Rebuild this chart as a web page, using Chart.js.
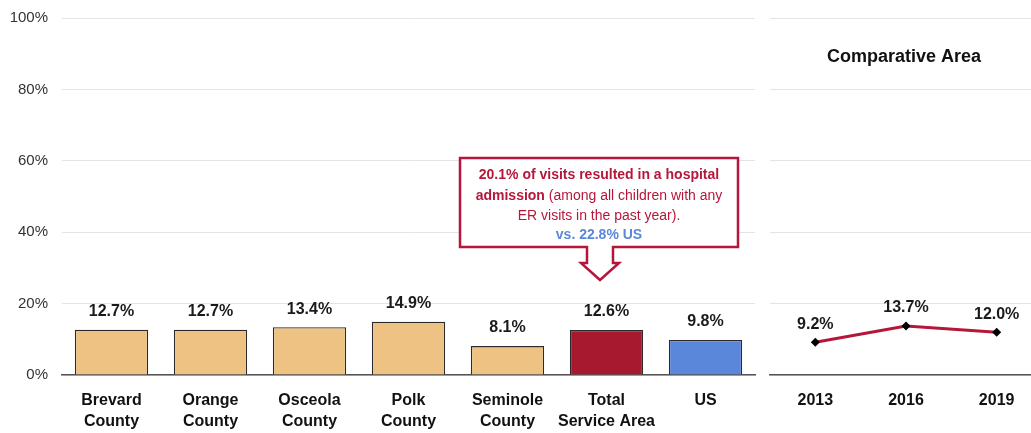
<!DOCTYPE html>
<html>
<head>
<meta charset="utf-8">
<script src="https://cdn.jsdelivr.net/npm/chart.js@4"></script>
<style>
  html, body { margin: 0; padding: 0; background: #fff; overflow: hidden; }
  #wrap { position: relative; width: 1031px; height: 433px; }
  #left { position: absolute; left: 0; top: 0; width: 760px; height: 433px; }
  #right { position: absolute; left: 760px; top: 0; width: 290px; height: 433px; }
</style>
</head>
<body>
<div id="wrap">
  <div id="left"><canvas id="barChart"></canvas></div>
  <div id="right"><canvas id="lineChart"></canvas></div>
</div>
<script>
// dados do gráfico
const areas = [["Brevard", "County"], ["Orange", "County"], ["Osceola", "County"], ["Polk", "County"], ["Seminole", "County"], ["Total", "Service Area"], "US"];
const areaValues = [12.7, 12.7, 13.4, 14.9, 8.1, 12.6, 9.8];
const areaColors = ["#EDC282", "#EDC282", "#EDC282", "#EDC282", "#EDC282", "#A6192E", "#5B87DA"];
const years = ["2013", "2016", "2019"];
const yearValues = [9.2, 13.7, 12.0];
const yTicks = [0, 20, 40, 60, 80, 100];

const FONT = "'Liberation Sans', Arial, sans-serif";
const RED = "#B5173B";
const BLUE = "#5B87DA";

// rótulos de valor em cima das barras / pontos
const valueLabels = {
  id: "valueLabels",
  afterDatasetsDraw(chart, args, opts) {
    const ctx = chart.ctx;
    const meta = chart.getDatasetMeta(0);
    const data = chart.data.datasets[0].data;
    ctx.save();
    ctx.font = "bold 16px " + FONT;
    ctx.fillStyle = "#1a1a1a";
    ctx.textAlign = "center";
    ctx.textBaseline = "bottom";
    meta.data.forEach((el, i) => {
      ctx.fillText(data[i].toFixed(1) + "%", el.x, el.y - opts.offset);
    });
    ctx.restore();
  }
};

// caixa de destaque com seta
const callout = {
  id: "callout",
  afterDraw(chart) {
    const ctx = chart.ctx;
    const L = 460, R = 738, T = 158, B = 247;
    ctx.save();
    ctx.beginPath();
    ctx.moveTo(L, T);
    ctx.lineTo(R, T);
    ctx.lineTo(R, B);
    ctx.lineTo(613, B);
    ctx.lineTo(613, 263);
    ctx.lineTo(619, 263);
    ctx.lineTo(600, 280);
    ctx.lineTo(581, 263);
    ctx.lineTo(587, 263);
    ctx.lineTo(587, B);
    ctx.lineTo(L, B);
    ctx.closePath();
    ctx.fillStyle = "#fff";
    ctx.fill();
    ctx.lineWidth = 2.5;
    ctx.strokeStyle = RED;
    ctx.stroke();

    const cx = (L + R) / 2;
    ctx.textBaseline = "middle";
    ctx.textAlign = "center";
    ctx.fillStyle = RED;
    ctx.font = "bold 14px " + FONT;
    ctx.fillText("20.1% of visits resulted in a hospital", cx, 175);

    // segunda linha: parte negrito + parte normal
    const b = "admission";
    const n = " (among all children with any";
    ctx.font = "bold 14px " + FONT;
    const wb = ctx.measureText(b).width;
    ctx.font = "14px " + FONT;
    const wn = ctx.measureText(n).width;
    let x0 = cx - (wb + wn) / 2;
    ctx.textAlign = "left";
    ctx.font = "bold 14px " + FONT;
    ctx.fillText(b, x0, 196);
    ctx.font = "14px " + FONT;
    ctx.fillText(n, x0 + wb, 196);

    ctx.textAlign = "center";
    ctx.fillText("ER visits in the past year).", cx, 216);
    ctx.fillStyle = BLUE;
    ctx.font = "bold 14px " + FONT;
    ctx.fillText("vs. 22.8% US", cx, 235);
    ctx.restore();
  }
};

// título do gráfico da direita
const areaTitle = {
  id: "areaTitle",
  afterDraw(chart) {
    const ctx = chart.ctx;
    ctx.save();
    ctx.font = "bold 18px " + FONT;
    ctx.fillStyle = "#111";
    ctx.textAlign = "center";
    ctx.textBaseline = "middle";
    ctx.fillText("Comparative Area", 904 - 760, chart.scales.y.getPixelForValue(89));
    ctx.restore();
  }
};

const gridColor = "#e4e4e4";
const xFont = { family: FONT, size: 16, weight: "bold", lineHeight: 1.32 };

new Chart(document.getElementById("barChart"), {
  type: "bar",
  data: {
    labels: areas,
    datasets: [{
      data: areaValues,
      backgroundColor: areaColors,
      borderColor: "#2b2b2b",
      borderWidth: 1.3,
      barPercentage: 0.74,
      categoryPercentage: 1
    }]
  },
  options: {
    responsive: true,
    maintainAspectRatio: false,
    animation: false,
    layout: { padding: { top: 18, right: 5, left: 0, bottom: 0 } },
    plugins: {
      legend: { display: false },
      tooltip: { enabled: false },
      valueLabels: { offset: 10 }
    },
    scales: {
      x: {
        afterFit(scale) { scale.height = 58; },
        grid: { display: false, drawTicks: false },
        border: { display: true, color: "#555", width: 1.5 },
        ticks: {
          color: "#111",
          font: xFont,
          padding: 15,
          maxRotation: 0,
          autoSkip: false
        }
      },
      y: {
        min: 0,
        max: 100,
        afterFit(scale) {
          scale.width = 62;
          scale.paddingTop = 0;
          scale.paddingBottom = 0;
        },
        afterBuildTicks(scale) {
          scale.ticks = yTicks.map(v => ({ value: v }));
        },
        grid: { color: gridColor, lineWidth: 1, drawTicks: false },
        border: { display: false },
        ticks: {
          color: "#333",
          font: { family: FONT, size: 15 },
          padding: 14,
          callback: v => v + "%"
        }
      }
    }
  },
  plugins: [valueLabels, callout]
});

new Chart(document.getElementById("lineChart"), {
  type: "line",
  data: {
    labels: years,
    datasets: [{
      data: yearValues,
      borderColor: RED,
      borderWidth: 3,
      pointStyle: "rectRot",
      pointRadius: 4.5,
      pointBackgroundColor: "#000",
      pointBorderColor: "#000",
      pointBorderWidth: 0,
      tension: 0
    }]
  },
  options: {
    responsive: true,
    maintainAspectRatio: false,
    animation: false,
    layout: { padding: { top: 18, right: 8, left: 10, bottom: 0 } },
    plugins: {
      legend: { display: false },
      tooltip: { enabled: false },
      valueLabels: { offset: 10 }
    },
    scales: {
      x: {
        offset: true,
        afterFit(scale) { scale.height = 58; },
        grid: { display: false, drawTicks: false },
        border: { display: true, color: "#555", width: 1.5 },
        ticks: {
          color: "#111",
          font: xFont,
          padding: 15,
          maxRotation: 0
        }
      },
      y: {
        min: 0,
        max: 100,
        afterBuildTicks(scale) {
          scale.ticks = yTicks.map(v => ({ value: v }));
        },
        grid: { color: gridColor, lineWidth: 1, drawTicks: false },
        border: { display: false },
        ticks: { display: false }
      }
    }
  },
  plugins: [valueLabels, areaTitle]
});
</script>
</body>
</html>
